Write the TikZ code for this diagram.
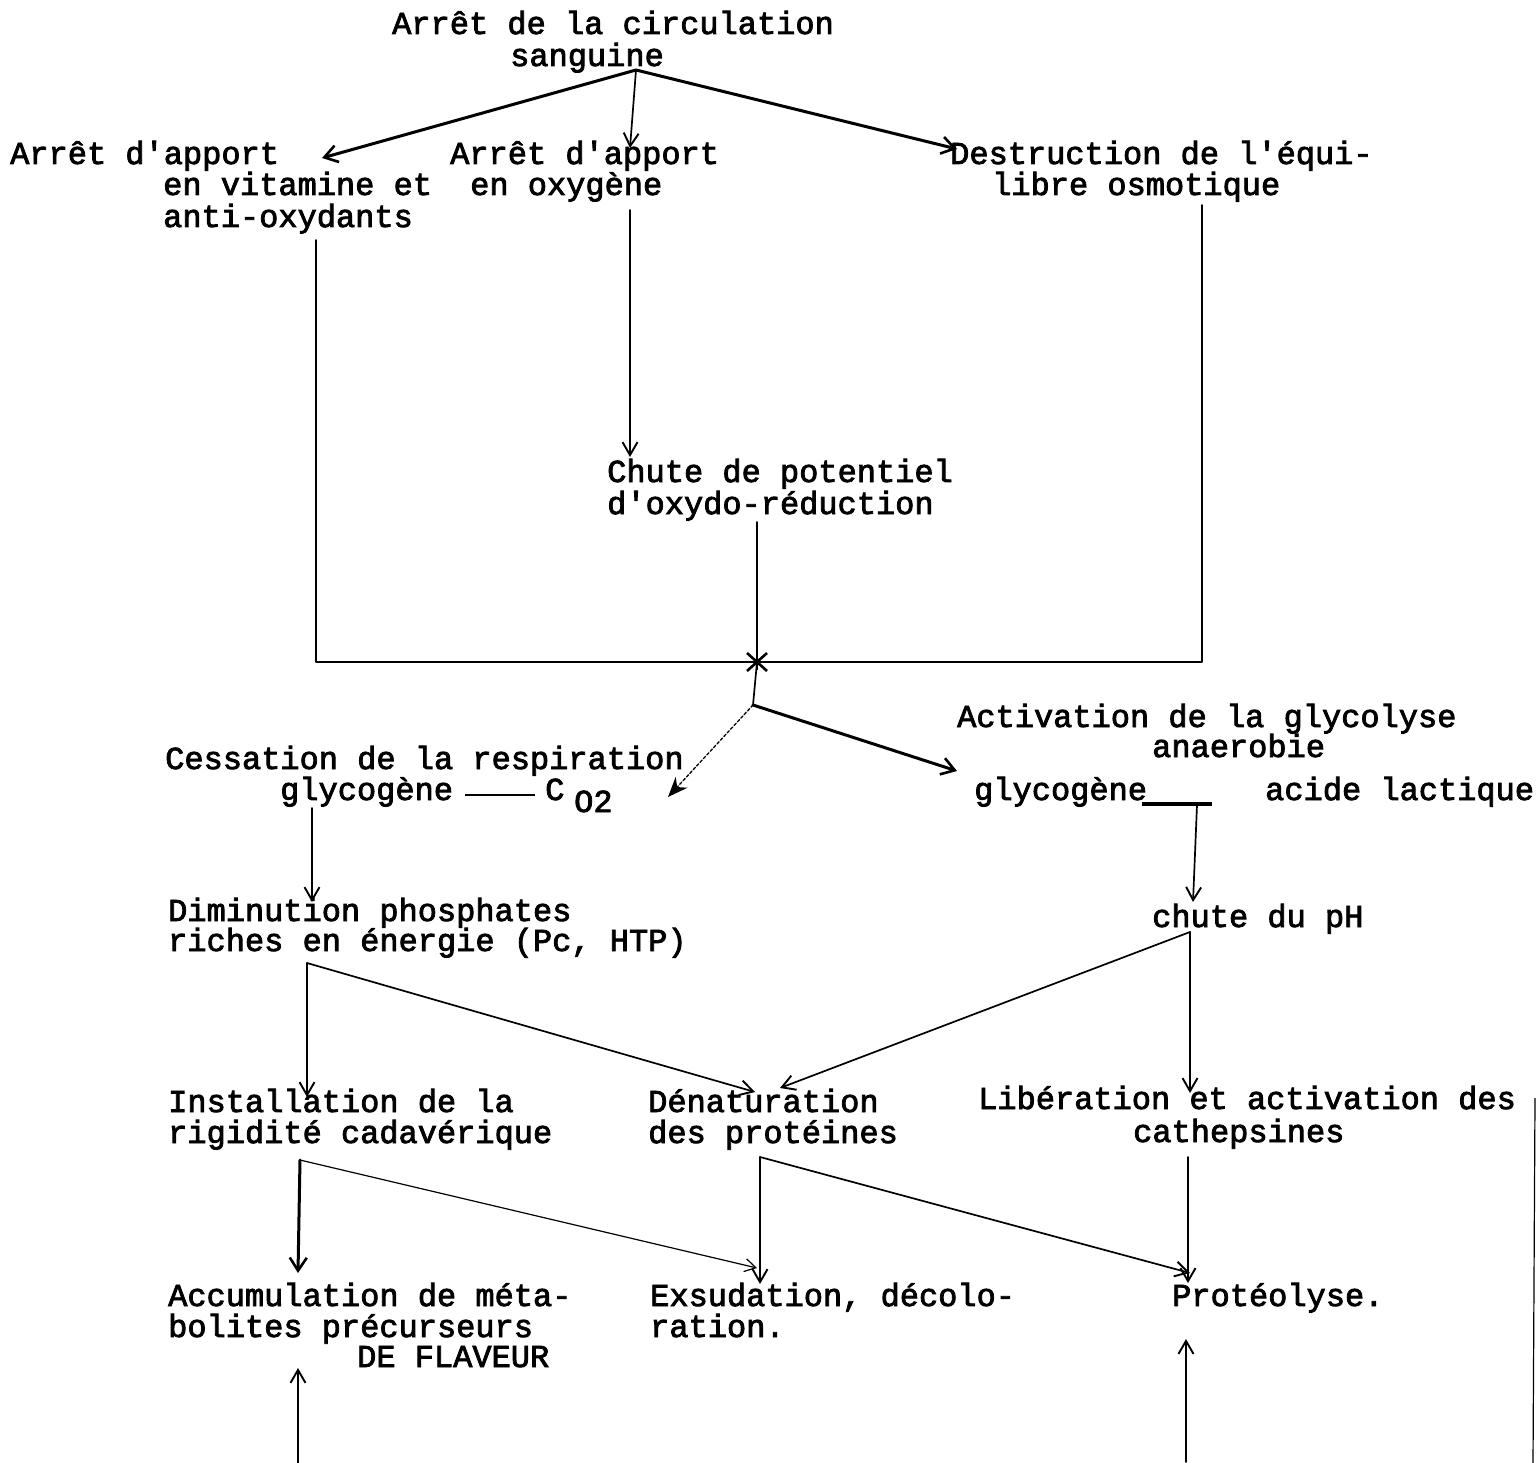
\documentclass[tikz,border=0pt]{standalone}
\usepackage{fontspec}
\setmonofont{Liberation Mono}[FakeBold=2.5]
\usetikzlibrary{arrows.meta}
\begin{document}
\begin{tikzpicture}[x=1pt,y=-1pt,
  lbl/.style={anchor=base west,inner sep=0pt,font=\ttfamily\fontsize{32}{31}\selectfont},
  conn/.style={line width=1.7pt,line cap=round,line join=round},
  thick conn/.style={line width=3pt,line cap=round},
  arr/.style={conn,-{Straight Barb[length=13pt,width=15pt,line width=1.9pt]}},
  thickarr/.style={thick conn,-{Straight Barb[length=13pt,width=17pt,line width=2.6pt]}},
  blobarr/.style={conn,line width=1.3pt,densely dashed,-{Stealth[length=20pt,width=16pt]}}]
\useasboundingbox (0,0) rectangle (1538,1463);

% ---------- texts ----------
\node[lbl] (top1) at (392,34) {Arrêt de la circulation};
\node[lbl] (top2) at (510,66) {sanguine};

\node[lbl] (vit1) at (10,164) {Arrêt d'apport};
\node[lbl] (vit2) at (163,195) {en vitamine et};
\node[lbl] (vit3) at (163,227) {anti-oxydants};

\node[lbl] (oxy1) at (450,164) {Arrêt d'apport};
\node[lbl] (oxy2) at (470,195) {en oxygène};

\node[lbl] (osm1) at (950,164) {Destruction de l'équi-};
\node[lbl] (osm2) at (992,195) {libre osmotique};

\node[lbl] (pot1) at (607,482) {Chute de potentiel};
\node[lbl] (pot2) at (607,514) {d'oxydo-réduction};

\node[lbl] (gly1) at (957,727) {Activation de la glycolyse};
\node[lbl] (gly2) at (1152,757) {anaerobie};
\node[lbl] (gly3) at (974,800) {glycogène};
\node[lbl] (gly4) at (1265,800) {acide lactique};

\node[lbl] (res1) at (165,769) {Cessation de la respiration};
\node[lbl] (res2) at (280,800) {glycogène};
\node[lbl] (res3) at (545,800) {C};
\node[lbl] (res4) at (574,812) {O2};

\node[lbl] (dim1) at (168,921) {Diminution phosphates};
\node[lbl] (dim2) at (168,951) {riches en énergie (Pc, HTP)};

\node[lbl] (ph) at (1152,927) {chute du pH};

\node[lbl] (rig1) at (168,1112) {Installation de la};
\node[lbl] (rig2) at (168,1143) {rigidité cadavérique};

\node[lbl] (den1) at (648,1112) {Dénaturation};
\node[lbl] (den2) at (648,1143) {des protéines};

\node[lbl] (cat1) at (978,1109) {Libération et activation des};
\node[lbl] (cat2) at (1133,1142) {cathepsines};

\node[lbl] (acc1) at (168,1306) {Accumulation de méta-};
\node[lbl] (acc2) at (168,1337) {bolites précurseurs};
\node[lbl] (acc3) at (357,1367) {DE FLAVEUR};

\node[lbl] (exs1) at (650,1306) {Exsudation, décolo-};
\node[lbl] (exs2) at (650,1337) {ration.};

\node[lbl] (pro) at (1172,1306) {Protéolyse.};

% ---------- connector points ----------
\coordinate (s0) at (636,70);
\coordinate (vitIn) at (322,158);
\coordinate (oxyIn) at (630,148);
\coordinate (osmIn) at (957,149);
\coordinate (vitOut) at (316,240);
\coordinate (oxyOut) at (630,210);
\coordinate (potIn) at (630,457);
\coordinate (osmOut) at (1202,205);
\coordinate (potOut) at (757,522);
\coordinate (jL) at (316,662);
\coordinate (jR) at (1202,662);
\coordinate (j) at (757,662);
\coordinate (k) at (753,705);
\coordinate (resIn) at (668,797);
\coordinate (glyIn) at (957,771);
\coordinate (barL) at (1142,804);
\coordinate (barR) at (1212,804);
\coordinate (barM) at (1197,805);
\coordinate (phIn) at (1193,902);
\coordinate (resOut) at (312,808);
\coordinate (dimIn) at (312,902);
\coordinate (dimOut) at (307,963);
\coordinate (rigIn) at (307,1097);
\coordinate (denIn) at (755,1092);
\coordinate (phOut) at (1190,932);
\coordinate (denIn2) at (780,1088);
\coordinate (catIn) at (1190,1093);
\coordinate (rigOut) at (300,1160);
\coordinate (accIn) at (298,1273);
\coordinate (exsIn2) at (757,1268);
\coordinate (denOut) at (760,1157);
\coordinate (exsIn) at (760,1284);
\coordinate (proIn2) at (1190,1273);
\coordinate (catOut) at (1188,1157);
\coordinate (proIn) at (1188,1283);
\coordinate (accBot) at (298,1463);
\coordinate (accUp) at (298,1368);
\coordinate (proBot) at (1186,1462);
\coordinate (proUp) at (1186,1339);
\coordinate (edgeT) at (1535,1098);
\coordinate (edgeB) at (1533,1463);

% ---------- connectors ----------
\draw[thickarr] (s0) -- (vitIn);
\draw[arr] (s0) -- (oxyIn);
\draw[thickarr] (s0) -- (osmIn);

\draw[conn] (vitOut) -- (jL) -- (jR) -- (osmOut);
\draw[arr] (oxyOut) -- (potIn);
\draw[conn] (potOut) -- (j) -- (k);
% junction mark
\draw[line width=2.6pt] (j) ++(-10,-9) -- ++(20,18);
\draw[line width=2.6pt] (j) ++(10,-9) -- ++(-20,18);
\draw[line width=2.6pt] (j) ++(0,-14) -- ++(0,22);

\draw[blobarr] (k) -- (resIn);
\draw[thickarr] (k) -- (glyIn);

% reaction dash: glycogène -- CO2
\coordinate (dashL) at (465,795);
\coordinate (dashR) at (535,795);
\draw[line width=2.2pt] (dashL) -- (dashR);

\draw[line width=3.2pt] (barL) -- (barR);
\draw[arr] (barM) -- (phIn);
\draw[arr] (resOut) -- (dimIn);

\draw[arr] (dimOut) -- (rigIn);
\draw[arr] (dimOut) -- (denIn);
\draw[arr] (phOut) -- (denIn2);
\draw[arr] (phOut) -- (catIn);

\draw[thickarr] (rigOut) -- (accIn);
\draw[conn,line width=1.2pt,-{Straight Barb[length=11pt,width=13pt]}] (rigOut) -- (exsIn2);
\draw[arr] (denOut) -- (exsIn);
\draw[arr] (denOut) -- (proIn2);
\draw[arr] (catOut) -- (proIn);

\draw[arr] (accBot) -- (accUp);
\draw[arr] (proBot) -- (proUp);

\draw[line width=1.2pt] (edgeT) -- (edgeB);
\end{tikzpicture}
\end{document}
